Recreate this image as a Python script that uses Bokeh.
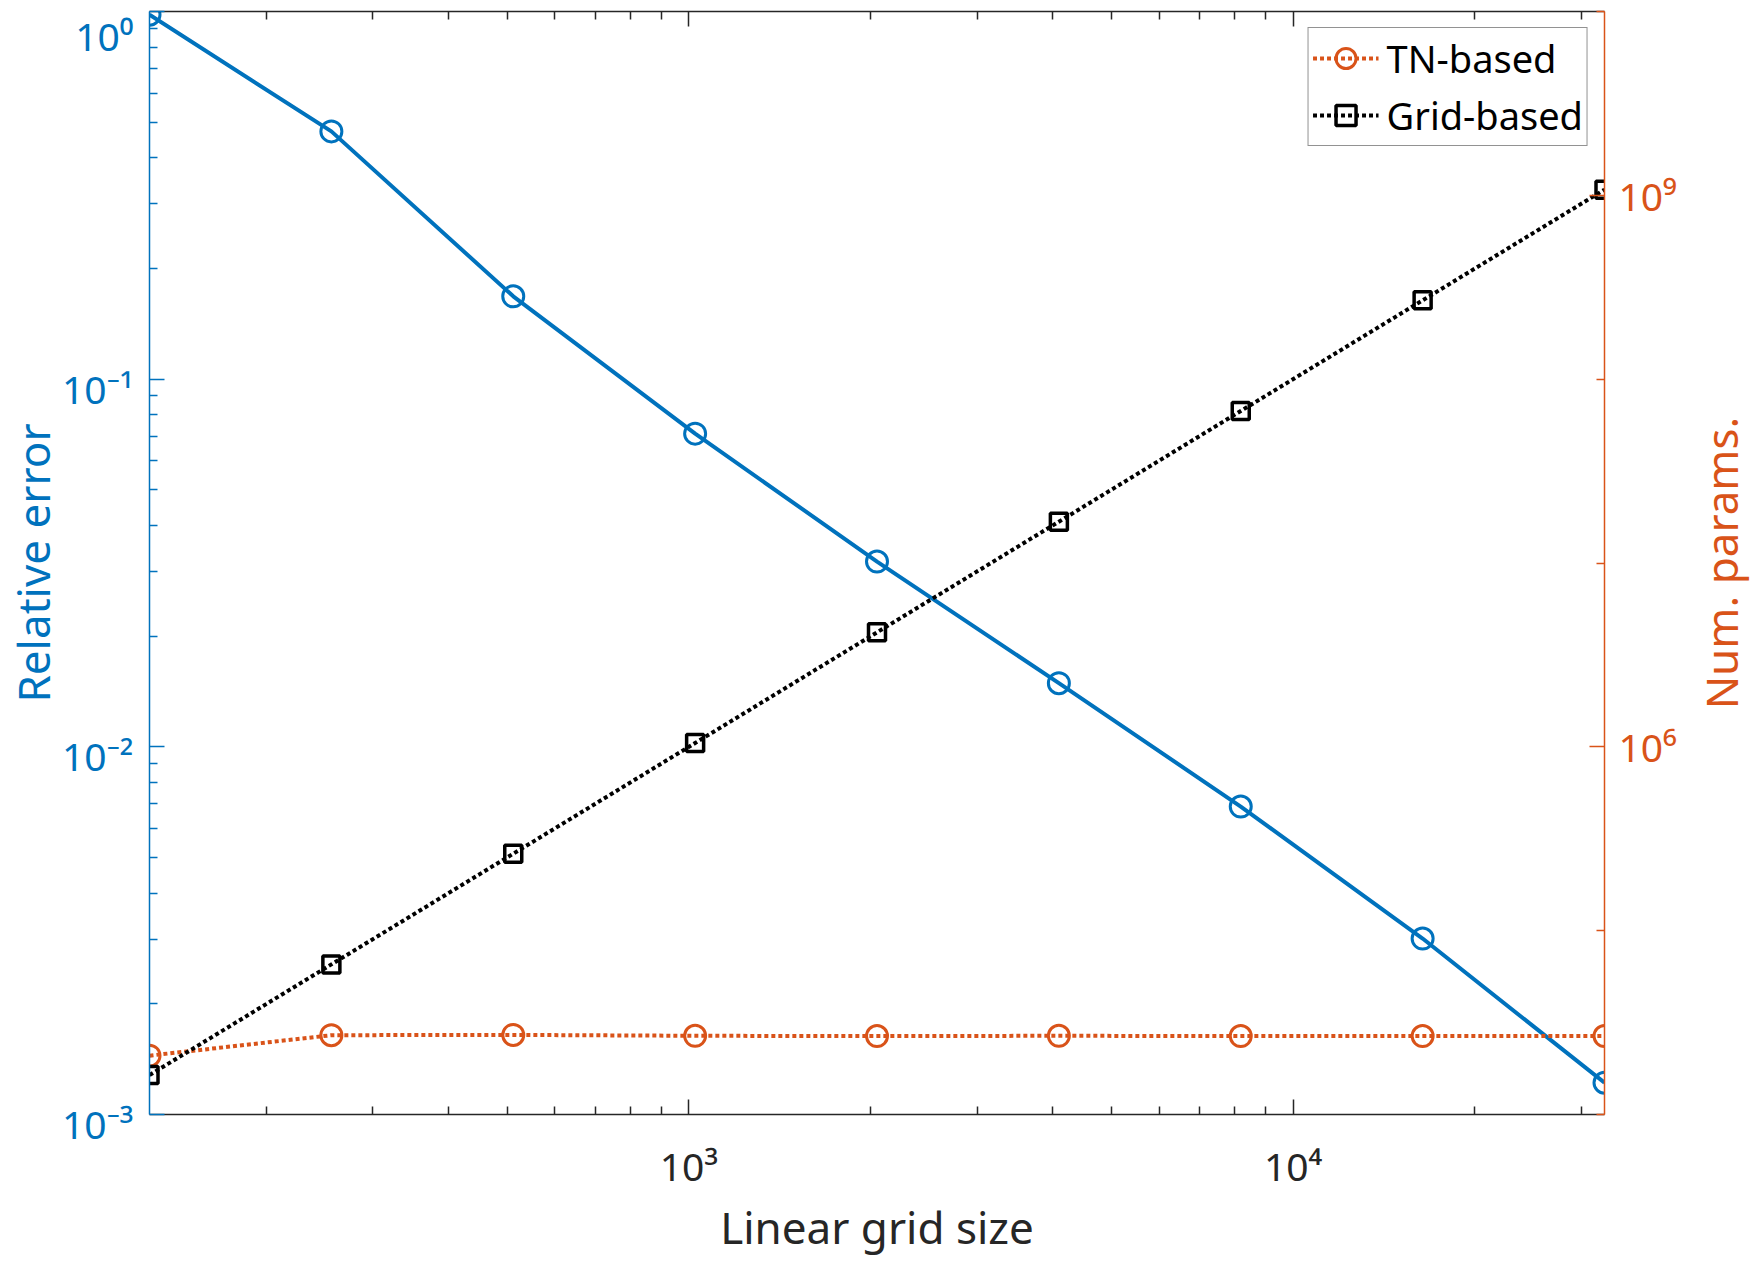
import math

from bokeh.plotting import figure
from bokeh.models import Range1d, LogScale, LogAxis, FixedTicker, CustomJSTickFormatter
from bokeh.core.properties import value
from bokeh.embed import file_html
from bokeh.resources import INLINE

# data
grid_size = [128, 256, 512, 1024, 2048, 4096, 8192, 16384, 32768]
rel_error = [0.98, 0.472, 0.168, 0.0711, 0.0319, 0.0149, 0.00688, 0.00301, 0.00122]
tn_params = [20900, 27000, 27100, 26800, 26700, 26800, 26700, 26700, 26700]
grid_params = [16384, 65536, 262144, 1048576, 4194304, 16777216, 67108864,
               268435456, 1073741824]

# axes ticks
x_major = [1e3, 1e4]
err_major = [1e-3, 1e-2, 1e-1, 1e0]
params_major = [1e6, 1e9]
params_minor = [1e4, 1e5, 1e7, 1e8, 1e10]

x_minor = [k * 10**d for d in (2, 3, 4) for k in range(2, 10)
           if grid_size[0] < k * 10**d < grid_size[-1]]
err_minor = [k * 10.0**d for d in (-3, -2, -1) for k in range(2, 10)]

BLUE = "#0072BD"
ORANGE = "#D95319"
DARK = "#262626"
FONT = "Noto Sans"

SUP = str.maketrans("-0123456789", "⁻⁰¹²³⁴⁵⁶⁷⁸⁹")


def pow_label(v):
    return "10" + str(round(math.log10(v))).translate(SUP)


pow_fmt = CustomJSTickFormatter(code="""
const sup = {"-": "⁻", "0": "⁰", "1": "¹", "2": "²", "3": "³", "4": "⁴",
             "5": "⁵", "6": "⁶", "7": "⁷", "8": "⁸", "9": "⁹"};
return "10" + String(Math.round(Math.log10(tick))).split("").map((c) => sup[c]).join("");
""")
blank_fmt = CustomJSTickFormatter(code="return '';")

p = figure(
    width=1752,
    height=1258,
    x_axis_type="log",
    y_axis_type="log",
    x_range=Range1d(grid_size[0], grid_size[-1]),
    y_range=Range1d(err_major[0], err_major[-1]),
    output_backend="svg",
    toolbar_location=None,
    min_border_left=149,
    min_border_right=148,
    min_border_top=11,
    min_border_bottom=144,
)
p.extra_y_ranges = {"params": Range1d(params_minor[0], params_minor[-1])}
p.extra_y_scales = {"params": LogScale()}
p.xgrid.visible = False
p.ygrid.visible = False
p.outline_line_color = None


def style_axis(ax, color):
    ax.axis_line_color = color
    ax.axis_line_width = 1.5
    ax.major_tick_line_color = color
    ax.minor_tick_line_color = color
    ax.major_tick_line_width = 1.5
    ax.minor_tick_line_width = 1.5
    ax.major_tick_in = 15
    ax.major_tick_out = 0
    ax.minor_tick_in = 8
    ax.minor_tick_out = 0
    ax.major_label_text_color = color
    ax.major_label_text_font = FONT
    ax.major_label_text_font_size = "39px"


# bottom axis
xax = p.below[0]
xax.ticker = FixedTicker(ticks=x_major, minor_ticks=x_minor)
xax.formatter = pow_fmt
style_axis(xax, DARK)
xax.major_label_standoff = 24

# top axis, ticks only
top = LogAxis(ticker=FixedTicker(ticks=x_major, minor_ticks=x_minor),
              formatter=blank_fmt)
style_axis(top, DARK)
top.major_label_text_font_size = "1px"
top.major_label_standoff = 0
p.add_layout(top, "above")

# left axis: ticks here, labels drawn as text a bit below each tick
yax = p.left[0]
yax.ticker = FixedTicker(ticks=err_major, minor_ticks=err_minor)
yax.formatter = blank_fmt
style_axis(yax, BLUE)
yax.major_label_text_font_size = "1px"

# right axis
rax = LogAxis(
    y_range_name="params",
    ticker=FixedTicker(ticks=params_major, minor_ticks=params_minor),
    formatter=pow_fmt,
)
style_axis(rax, ORANGE)
rax.major_label_standoff = 14
p.add_layout(rax, "right")

tick_style = dict(text_font=value(FONT), text_font_size=value("39px"),
                  text_color=BLUE, text_align="right", level="overlay")
p.text(x=[grid_size[0]] * 3, y=err_major[:-1],
       text=[pow_label(v) for v in err_major[:-1]],
       x_offset=-16, y_offset=9, text_baseline="middle", **tick_style)
p.text(x=[grid_size[0]], y=[err_major[-1]], text=[pow_label(err_major[-1])],
       x_offset=-16, y_offset=-3, text_baseline="top", **tick_style)

# axis titles, placed from the frame edges
x_mid = math.sqrt(grid_size[0] * grid_size[-1])
y_mid = math.sqrt(err_major[0] * err_major[-1])
title_style = dict(text_font=value(FONT), text_font_size=value("44px"),
                   text_align="center", text_baseline="middle", level="overlay")
p.text(x=[x_mid], y=[err_major[0]], text=["Linear grid size"], y_offset=112,
       text_color=DARK, **title_style)
p.text(x=[grid_size[0]], y=[y_mid], text=["Relative error"], x_offset=-117,
       angle=math.pi / 2, text_color=BLUE, **title_style)
p.text(x=[grid_size[-1]], y=[y_mid], text=["Num. params."], x_offset=116,
       angle=math.pi / 2, text_color=ORANGE, **title_style)

# relative error (left axis)
p.line(grid_size, rel_error, line_color=BLUE, line_width=4)
p.scatter(grid_size, rel_error, marker="circle", size=21, line_color=BLUE,
          line_width=3, fill_color=None)

# parameter counts (right axis)
p.line(grid_size, tn_params, y_range_name="params", line_color=ORANGE,
       line_width=4, line_dash="4 3", legend_label="TN-based")
p.scatter(grid_size, tn_params, y_range_name="params", marker="circle", size=21,
          line_color=ORANGE, line_width=3, fill_color=None, legend_label="TN-based")

p.line(grid_size, grid_params, y_range_name="params", line_color="black",
       line_width=4, line_dash="4 3", legend_label="Grid-based")
p.scatter(grid_size, grid_params, y_range_name="params", marker="square", size=17,
          line_color="black", line_width=3.5, fill_color=None,
          legend_label="Grid-based")

leg = p.legend[0]
leg.location = "top_right"
leg.margin = 16
leg.padding = 4
leg.spacing = 5
leg.glyph_width = 66
leg.glyph_height = 50
leg.label_height = 50
leg.label_standoff = 8
leg.label_text_font = FONT
leg.label_text_font_size = "38px"
leg.label_text_color = "black"
leg.border_line_color = DARK
leg.border_line_width = 1.5

open("out.html", "w").write(file_html(p, INLINE))
